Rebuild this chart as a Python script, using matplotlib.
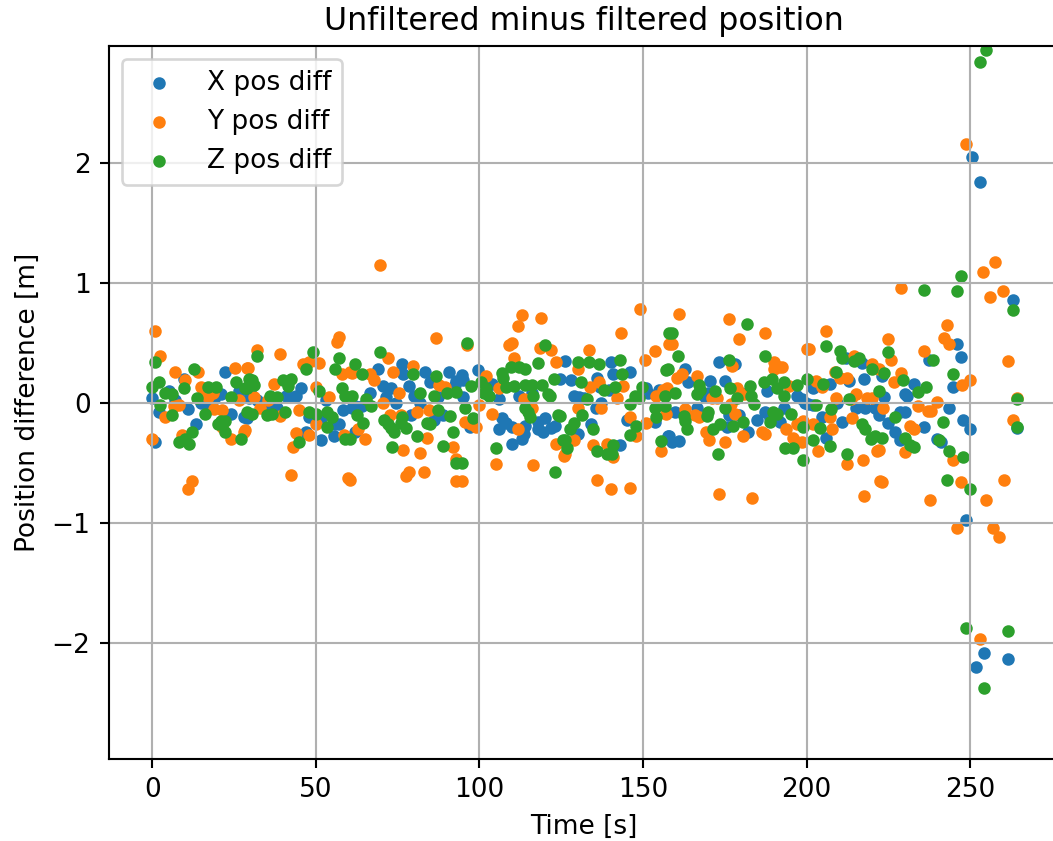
import numpy as np
import matplotlib
matplotlib.use("Agg")
import matplotlib.pyplot as plt

# (time [s], unfiltered - filtered [m])
x_diff = [
    (0, 0.04), (1, -0.33), (2, -0.08), (5, 0.1), (7, 0.02), (9.7, 0.2), (11, -0.05),
    (13.3, -0.18), (15, 0), (17.5, -0.05), (19, 0.03), (21, 0.07), (22.4, 0.26),
    (24, -0.09), (26.5, 0.1), (28, -0.12), (29, -0.13), (29.5, 0.04),
    (30, 0.1), (32, 0.02), (35, -0.02), (38, -0.04), (41, 0.06), (42.5, 0.05),
    (44, 0.06), (45.5, 0.12), (47, -0.24), (48, -0.12), (50, -0.15), (51.5, -0.13),
    (51.5, -0.31), (53, 0.02), (55.5, -0.28), (56, -0.18), (57, -0.18), (58.3, -0.06),
    (61, -0.04), (62, -0.03), (62, -0.24), (64, -0.03), (66.5, 0.08), (69, 0.28),
    (70.6, 0.14), (71.5, 0.05), (73, 0.12), (74.6, 0), (76.3, 0.32), (76.8, 0.24),
    (78.6, 0.14), (79, -0.1), (80, 0.06), (82, 0.0), (83.5, 0.26), (85, 0.17),
    (86, -0.14), (87.5, 0.05), (88.8, -0.1), (90.8, 0.26), (92.7, 0.15), (93, 0.18),
    (94.7, 0.23), (95, 0.19), (95, 0.05), (97, -0.2), (99.7, 0.27), (102, 0.1),
    (104, 0.16), (106, 0.03), (106, -0.22), (107, -0.13), (108, -0.17), (110, -0.2),
    (110, -0.34), (112, 0.06), (113, -0.3), (113.5, -0.26), (114, -0.19), (116, 0.08),
    (118, -0.16), (118, -0.22), (119.5, -0.24), (120, -0.13), (122, -0.21), (123, -0.19),
    (124.7, 0.2), (126.3, 0.35), (128, 0.19), (129, 0.06), (130.3, -0.26), (130.5, 0.05),
    (132, 0.04), (134, -0.18), (135.7, -0.04), (136, 0.21), (137, 0.13), (137.3, 0),
    (139.5, 0.11), (140.2, 0.34), (141, 0.24), (143, -0.35), (145, -0.14), (146, 0.26),
    (151, 0.12), (151.5, 0.08), (153.7, -0.16), (155, 0.11), (157, 0.11), (157.8, -0.28),
    (158, -0.28), (158.8, -0.33), (159.9, -0.08), (160.9, -0.32), (163, 0.28),
    (163.7, 0.17), (166.5, -0.04), (169, 0.05), (170, 0.08), (170.5, 0.18), (173.1, 0.34),
    (175, 0.18), (175.6, -0.2), (176.2, -0.1), (178.2, 0.32), (179.3, -0.1), (180, 0.08),
    (182.2, -0.24), (184.8, -0.14), (187.2, -0.08), (188, 0.1), (188.9, -0.13),
    (192, -0.16), (193, -0.04), (197, 0.06), (198.6, 0.03), (199.6, 0), (200.6, -0.01),
    (202, 0.12), (202, -0.02), (204.6, -0.12), (206, -0.29), (207.3, 0.16), (209.3, 0),
    (210.7, -0.16), (212, 0.37), (213, 0.18), (215, -0.04), (217, 0.33), (217.6, 0.2),
    (218, -0.04), (221, -0.04), (222, -0.1), (223, 0.22), (223.6, 0.05), (224.8, -0.17),
    (227, -0.24), (228.6, -0.31), (228.5, -0.08), (230, 0.07), (230.6, 0.06), (230, -0.08),
    (233, 0.16), (236, -0.2), (237.3, 0.36), (240, -0.3), (241, -0.33), (243.6, -0.04),
    (244.7, 0.13), (246, 0.49), (247.2, 0.38), (247.7, -0.14), (248.7, -0.98),
    (250, -0.22), (250.6, 2.05), (251.8, -2.2), (253, 1.84), (254.1, -2.09),
    (261.7, -2.14), (263, 0.86), (264.2, -0.21),
]

y_diff = [
    (0, -0.3), (1, 0.6), (2.3, 0.39), (4, -0.12), (6.6, -0.03), (7, 0.26), (8.2, -0.02),
    (9.2, -0.27), (10, 0.19), (11, -0.72), (12.2, -0.65), (14, 0.26), (14.8, 0.13),
    (16, 0.1), (17, 0.05), (18.5, 0.08), (19, -0.05), (21.4, -0.06), (21.4, -0.2),
    (24, -0.3), (25.3, 0.29), (26.5, 0.02), (28, -0.24), (28.4, -0.23), (28.9, 0.29),
    (29.2, 0.29), (31, 0.05), (32, 0.44), (33, -0.04), (35.5, 0.02), (37.2, 0.16),
    (39, 0.41), (39, -0.11), (42.5, -0.6), (43, -0.37), (44, -0.25), (45, -0.06),
    (46, 0.32), (48, 0.34), (48, -0.27), (50, 0.13), (50, -0.18), (51, 0.33), (54, 0.05),
    (56.4, 0.51), (57, 0.55), (58, 0.24), (58.5, -0.27), (59.8, -0.63), (60.6, 0.26),
    (60.5, -0.64), (61, 0.25), (63, -0.22), (65, -0.3), (66.6, 0.24), (67.8, 0.19),
    (69.7, 1.15), (70.6, 0), (72.2, 0.37), (72.6, -0.1), (73.7, 0.26), (75.3, 0.08),
    (76, -0.1), (76.8, -0.39), (77.7, -0.61), (78.6, -0.58), (79.7, 0.31), (81, -0.08),
    (81.9, -0.42), (83, -0.58), (84, -0.29), (84.6, -0.06), (86.8, 0.54), (87.8, 0.15),
    (89.5, 0.13), (92, -0.37), (93, -0.47), (93, -0.65), (94.7, -0.65), (95.5, -0.16),
    (96.2, 0.48), (97.5, -0.18), (99, -0.2), (100, -0.02), (102, 0.22), (103.8, -0.09),
    (105, -0.51), (106, 0.12), (109, 0.48), (110, 0.5), (110.7, 0.37), (111.8, 0.64),
    (111.8, -0.22), (113, 0.73), (113.5, 0.03), (116, -0.04), (116.4, -0.52),
    (118.5, 0.46), (118.9, 0.71), (122, 0.44), (123.3, 0.34), (123.3, -0.34),
    (126, -0.44), (126.2, -0.43), (128.8, -0.31), (130, 0.28), (130, -0.04),
    (133.5, 0.44), (133.8, 0.13), (134.8, -0.35), (136, -0.64), (136.7, 0.17),
    (137.3, -0.04), (139, -0.34), (140.3, -0.72), (141, -0.45), (142, 0.04),
    (143.2, 0.58), (144, 0.14), (146, -0.12), (146, -0.71), (148, -0.28), (149, 0.78),
    (150.7, 0.36), (151, -0.17), (153.7, 0.43), (154, 0.06), (155.5, -0.4), (156, 0.11),
    (157.2, -0.09), (157.3, 0.12), (158, 0.49), (159, 0.49), (160.3, 0.21), (160.9, 0.74),
    (161.8, 0.24), (162.9, -0.05), (166, -0.1), (166.5, 0.22), (167, -0.12),
    (169.2, -0.24), (170.2, -0.31), (171, 0.04), (172.6, 0.04), (173.1, -0.76),
    (175, -0.33), (176.2, 0.7), (177, -0.01), (177.2, 0.31), (178.2, -0.09), (178.7, 0.12),
    (179.5, 0.53), (180.7, -0.28), (181, 0.07), (183.3, -0.79), (186.4, -0.24),
    (187.2, -0.26), (187.3, 0.58), (190, 0.34), (190, 0.28), (191.5, 0.3), (192.5, 0.3),
    (193.7, -0.22), (194.6, 0.14), (196, -0.29), (197, -0.18), (197, -0.33),
    (198.6, -0.33), (199, -0.15), (200, 0.45), (200.8, 0.45), (202, -0.18), (203, 0.18),
    (203.5, -0.4), (204.6, 0.13), (205.8, 0.6), (207.3, -0.12), (207.8, -0.22),
    (208.8, 0.26), (209, 0.04), (210.3, 0.21), (212.3, -0.51), (212.4, 0.21),
    (213.6, 0.03), (214, -0.13), (214.6, 0.39), (215, 0.07), (217.3, -0.48),
    (217.7, -0.78), (218.5, 0.04), (220, 0.32), (220, 0.04), (221.5, -0.4),
    (222, 0.28), (222, -0.39), (222.5, -0.65), (223, -0.66), (223.5, -0.04),
    (224.8, 0.53), (225.9, 0.36), (226.8, 0.17), (228.9, 0.96), (229, 0.25),
    (230, -0.41), (231.7, -0.19), (233, -0.22), (234, -0.03), (236, 0.43), (237, -0.07),
    (237.8, -0.81), (238, -0.07), (240, 0.01), (241.9, 0.54), (243, 0.65), (243.6, 0.49),
    (244.7, -0.48), (246, -1.04), (247.1, -0.66), (247.6, 0.15), (248.7, 2.16),
    (250, 0.19), (253, -1.97), (254, 1.09), (254.8, -0.81), (256, 0.88), (257.1, -1.04),
    (257.7, 1.17), (258.9, -1.12), (260, 0.93), (260.5, -0.64), (261.7, 0.35),
    (263, -0.14), (264.2, 0.04),
]

z_diff = [
    (0, 0.13), (1, 0.34), (2, 0.17), (2.5, -0.02), (4, 0.08), (6, 0.075), (6, -0.1),
    (8.2, -0.33), (9.7, 0.12), (10, -0.3), (11.2, -0.34), (12.2, -0.24), (12.8, 0.28),
    (13.8, 0.04), (16, -0.09), (17, 0.13), (19.4, 0.13), (20, -0.18), (21, -0.15),
    (22.4, -0.15), (22.4, -0.24), (24, 0.05), (25.5, 0.17), (27, -0.3), (28.5, 0.12),
    (29, 0.12), (29, -0.08), (29.5, 0.2), (30.5, 0.19), (30.5, -0.09), (31, 0.15),
    (32, 0.39), (35, -0.1), (36, 0.06), (36.5, -0.09), (38, 0.05), (40, 0.19),
    (40.5, -0.08), (41.5, 0.14), (42.5, 0.2), (45, -0.33), (47, 0.28), (48, -0.08),
    (49.3, 0.42), (50, -0.09), (51, 0.1), (53.5, -0.08), (53.5, -0.2), (55, -0.12),
    (56, 0.28), (57, 0.37), (58, 0.12), (59, 0.06), (59, -0.3), (60.5, -0.3), (61, 0.06),
    (62, 0.32), (62.5, -0.1), (64, 0.24), (64.5, -0.17), (65.5, 0.03), (67, -0.03),
    (69.7, 0.42), (71, -0.14), (72, -0.18), (73, -0.21), (73.3, -0.37), (74, -0.24),
    (76, -0.17), (76.5, -0.12), (77.6, -0.21), (79.7, 0.24), (81, -0.28), (82, 0.08),
    (84, -0.17), (85, -0.18), (86, 0.06), (86.8, 0.22), (87.3, -0.06), (89, -0.36),
    (90, 0.08), (91, -0.11), (92, -0.24), (93, 0.09), (93, -0.5), (94.7, -0.5),
    (95.5, -0.04), (96.2, 0.5), (97.6, 0.14), (98, -0.13), (100.5, 0.17), (101.5, 0.08),
    (102, 0.12), (103, 0.06), (105, -0.38), (107, 0.25), (107.3, 0.21), (108, 0.13),
    (109.6, 0.3), (110.5, 0.14), (112, 0.3), (114, 0.28), (114, 0.15), (114, -0.04),
    (115, -0.08), (115.5, -0.12), (116, 0.15), (116.5, 0.06), (118, 0.33), (119, 0.15),
    (120, 0.48), (121, 0.07), (121.5, 0.06), (122.7, 0.2), (123, -0.58), (124, -0.1),
    (124.7, -0.11), (125.6, -0.31), (126.2, -0.31), (126.8, -0.38), (127.7, -0.22),
    (128.8, -0.17), (130, 0.34), (131, 0.17), (131.5, -0.1), (133, 0.03), (133.5, 0.34),
    (134.8, -0.22), (136, -0.4), (136.7, 0.32), (138, 0.11), (139, -0.43),
    (140.5, -0.43), (141, -0.35), (141.6, 0.13), (143, 0.36), (143.5, 0.24),
    (146, -0.01), (146, -0.27), (147.7, 0.06), (148, -0.19), (148.7, 0.04),
    (149.6, 0.13), (153.7, -0.04), (154, -0.12), (155.5, -0.32), (156.7, 0.06),
    (156.8, -0.03), (157, 0.27), (157.8, 0.28), (158, 0.58), (159, 0.58), (159.8, 0.08),
    (160.7, 0.39), (162.4, -0.11), (163, -0.15), (163.4, -0.22), (166.5, 0.07),
    (167, 0.15), (167.5, 0.11), (169.6, -0.11), (170, -0.08), (171.3, -0.22), (172, 0.1),
    (172.9, -0.43), (173.6, -0.18), (175, -0.04), (176.2, 0.36), (176.7, 0.12),
    (177.6, -0.19), (178.7, 0.04), (180.7, -0.16), (181.8, 0.66), (182.8, 0.14),
    (183, 0.06), (184, -0.01), (186.9, 0.17), (187.3, 0.39), (188.8, -0.16),
    (189.4, 0.2), (189.8, -0.08), (191, 0.12), (191, -0.09), (193, 0.17), (193, 0.06),
    (193.5, -0.38), (195.2, -0.09), (196, -0.38), (197, 0.15), (199, -0.2), (199, -0.48),
    (200, 0.2), (202, -0.31), (203, -0.02), (204, -0.21), (205, 0.16), (205.8, 0.47),
    (207.3, -0.36), (207.6, -0.05), (209, 0.26), (210.3, 0.43), (210.8, 0.37),
    (212.3, -0.43), (213, 0.03), (214.6, 0.35), (216, 0.37), (217, -0.18), (218, -0.22),
    (219.6, -0.3), (220, 0.28), (221, -0.28), (222, 0.1), (223, -0.29), (223.6, 0.25),
    (224.8, 0.42), (227, -0.12), (229.5, 0.19), (230, -0.29), (231.5, -0.35),
    (233, -0.37), (234, 0.09), (236, 0.94), (236.6, 0.13), (238.8, 0.36), (240.5, -0.31),
    (241.6, -0.16), (242.9, -0.64), (243.6, -0.4), (244.7, 0.24), (246, 0.93),
    (247.3, 1.06), (247.7, -0.45), (248.7, -1.88), (250, -0.72), (253, 2.84),
    (254.1, -2.38), (254.8, 2.94), (261.7, -1.9), (263, 0.77), (264.2, 0.03),
    (264.2, -0.2),
]

x_t, x_v = np.array(x_diff).T
y_t, y_v = np.array(y_diff).T
z_t, z_v = np.array(z_diff).T

fig = plt.figure(figsize=(1053 / 190, 841 / 190), dpi=190)
ax = fig.add_axes([0.1035, 0.0975, 0.9023, 0.8478])

ax.scatter(x_t, x_v, s=14, label="X pos diff")
ax.scatter(y_t, y_v, s=14, label="Y pos diff")
ax.scatter(z_t, z_v, s=14, label="Z pos diff")

ax.set_xlim(-13.2, 277.2)
ax.set_ylim(-2.97, 2.975)
ax.set_title("Unfiltered minus filtered position")
ax.set_xlabel("Time [s]")
ax.set_ylabel("Position difference [m]")
ax.grid(True)
ax.legend(loc="upper left")

fig.savefig("out.png", dpi=190)
